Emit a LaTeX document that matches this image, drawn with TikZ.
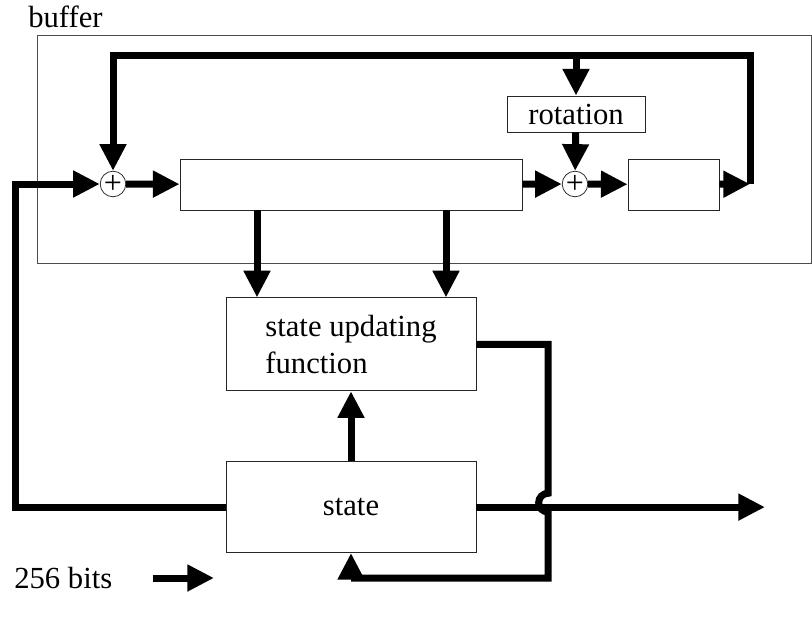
\documentclass[tikz,border=0pt]{standalone}
\usepackage{fontspec}
\setmainfont{Liberation Serif}
\usepackage{tikz}
\usetikzlibrary{arrows.meta, positioning, calc}
\tikzset{
  >=Triangle,
  busline/.style={line width=5.25pt},
  busarrow/.style={-{Triangle[length=20pt, width=19pt]}, line width=5.25pt},
  block/.style={draw=black!85, line width=0.6pt, inner sep=0pt},
  xorsum/.style={circle, draw=black!85, line width=0.6pt, minimum size=19pt, inner sep=0pt, font=\fontsize{24pt}{24pt}\selectfont},
  frame/.style={draw=black!70, line width=0.6pt}
}

\begin{document}
\begin{tikzpicture}[x=0.75pt, y=-0.75pt, font=\fontsize{23pt}{27.5pt}\selectfont]
    \useasboundingbox (0,0) rectangle (812,617);

    % buffer part
    \node (buf) [frame, minimum width=580.5pt, minimum height=171pt] at (424,149) {};
    \node (buflabel) [anchor=west, inner sep=0pt] at (28,17) {buffer};
    \node (big) [block, minimum width=256.5pt, minimum height=38.25pt] at (351,184.5) {};
    \node (x1) [xorsum] at (113,184) {+};
    \node (x2) [xorsum] at (575,184) {+};
    \node (rot) [block, minimum width=103.5pt, minimum height=27pt] at (576,114) {rotation};
    \node (small) [block, minimum width=68.25pt, minimum height=38.25pt] at (673.5,184.5) {};

    % state part
    \node (suf) [block, align=left, minimum width=187.5pt, minimum height=69.75pt, below=65.25pt of big] {state updating\\function};
    \node (state) [block, minimum width=187.5pt, minimum height=68.25pt, below=52.5pt of suf] {state};

    \coordinate (tr) at (750,56);
    \coordinate (re) at (750,184);
    \coordinate (tl) at (x1.north |- tr);
    \coordinate (lft) at (15,184);
    \coordinate (out) at (765,504);
    \coordinate (hop) at (548,493.3);
    \coordinate (fb) at (548,578);

    \draw[busarrow] (x1) -- (big);
    \draw[busarrow] (big) -- (x2);
    \draw[busarrow] (x2) -- (small);
    \draw[busarrow] (rot) -- (x2);
    \draw[busarrow] (small) -- (re);
    \draw[busarrow] (re) -- (tr) -- (tl) -- (x1.north);
    \draw[busarrow] (rot.north |- tr) -- (rot.north);

    \draw[busarrow] ([xshift=-70.5pt]big.south) -- ([xshift=-70.5pt]suf.north);
    \draw[busarrow] ([xshift=71.25pt]big.south) -- ([xshift=71.25pt]suf.north);
    \draw[busarrow] (state) -- (suf);
    \draw[busarrow] (state.west) -| (lft) -- (x1.west);
    \draw[busarrow] (state.east) -- (state.east -| out);
    \draw[busarrow] (suf.east) -| (hop) arc[start angle=90, end angle=270, radius=7pt] -- (fb) -| (state.south);

    % legend
    \node (bits) [anchor=west, inner sep=0pt] at (14,578) {256 bits};
    \coordinate (bitsend) at (214,578);
    \draw[busarrow] ([xshift=30pt]bits.east) -- (bitsend);
\end{tikzpicture}
\end{document}
